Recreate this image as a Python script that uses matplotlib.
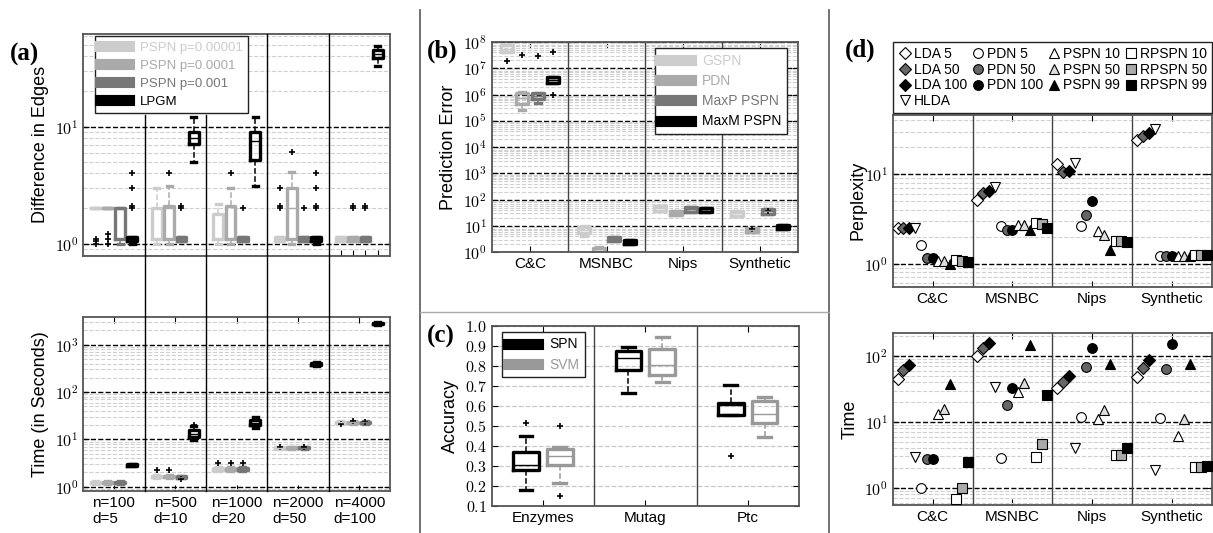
import numpy as np
import matplotlib.pyplot as plt
from matplotlib.lines import Line2D
from matplotlib.ticker import LogLocator, FuncFormatter, NullFormatter, FixedLocator

plt.rcParams['font.family'] = ['Liberation Sans', 'DejaVu Sans']
plt.rcParams['mathtext.fontset'] = 'cm'

# ---------------- data ----------------
# (a) structure learning, stats per box: [whislo, q1, med, q3, whishi]
a_groups = ['n=100\nd=5', 'n=500\nd=10', 'n=1000\nd=20', 'n=2000\nd=50', 'n=4000\nd=100']
a_methods = ['PSPN p=0.00001', 'PSPN p=0.0001', 'PSPN p=0.001', 'LPGM']
a_colors = ['#cccccc', '#aaaaaa', '#777777', '#000000']
edge_stats = [
    [[2, 2, 2, 2, 2], [2, 2, 2, 2, 2], [1.0, 1.1, 2.0, 2.0, 2.0], [1.0, 1.05, 1.1, 1.15, 1.15]],
    [[1.0, 1.1, 1.1, 2.0, 3.0], [1.0, 1.1, 2.0, 2.1, 3.1], [1.05, 1.05, 1.1, 1.15, 1.15], [5.0, 7.1, 8.0, 9.0, 12.0]],
    [[1.0, 1.1, 1.1, 1.8, 2.2], [1.0, 1.1, 1.1, 2.1, 3.0], [1.05, 1.05, 1.1, 1.15, 1.15], [3.1, 5.2, 7.5, 9.1, 12.0]],
    [[1.05, 1.05, 1.1, 1.15, 1.15], [1.0, 1.1, 2.0, 3.0, 4.1], [1.05, 1.05, 1.1, 1.15, 1.15], [1.0, 1.05, 1.1, 1.15, 1.15]],
    [[1.05, 1.05, 1.1, 1.15, 1.15], [1.05, 1.05, 1.1, 1.15, 1.15], [1.05, 1.05, 1.1, 1.15, 1.15], [33, 38.5, 42, 45, 48.5]],
]
edge_fliers = [
    [[1.0, 1.05, 1.1], [1.0, 1.1, 1.2], [], [2.0, 2.1, 3.0, 4.0]],
    [[], [4.0], [2.0, 2.1], []],
    [[], [4.0], [2.0], []],
    [[2.0, 2.1, 3.0], [6.1], [2.0], [2.0, 2.1, 3.0, 4.0]],
    [[], [2.0, 2.1], [2.0, 2.1], []],
]
time_stats = [
    [[1.15, 1.18, 1.22, 1.26, 1.3]] * 3 + [[2.7, 2.8, 2.85, 2.95, 3.0]],
    [[1.55, 1.6, 1.65, 1.72, 1.8], [1.55, 1.6, 1.65, 1.72, 1.8], [1.5, 1.55, 1.6, 1.68, 1.72], [9.7, 11.4, 13.2, 15.7, 18.7]],
    [[2.1, 2.2, 2.33, 2.45, 2.6]] * 3 + [[17, 20, 22, 26, 29]],
    [[6.3, 6.45, 6.65, 6.85, 7.0]] * 3 + [[360, 380, 400, 420, 440]],
    [[21.5, 22, 22.8, 23.5, 24]] * 3 + [[2600, 2700, 2800, 2900, 3000]],
]
time_fliers = [
    [[], [], [], []],
    [[2.25], [2.25], [1.45], [20]],
    [[3.1], [3.1], [3.1], []],
    [[6.8], [], [6.8], []],
    [[21], [24.5], [23], []],
]

# (b) prediction error
b_groups = ['C&C', 'MSNBC', 'Nips', 'Synthetic']
b_methods = ['GSPN', 'PDN', 'MaxP PSPN', 'MaxM PSPN']
b_colors = ['#cccccc', '#aaaaaa', '#777777', '#000000']
pred_stats = [
    [[4.2e7, 4.2e7, 5.5e7, 7.6e7, 7.6e7], [2.6e5, 4.4e5, 7.2e5, 1.17e6, 1.2e6],
     [4.9e5, 6.6e5, 8.5e5, 1.1e6, 1.1e6], [2.7e6, 2.7e6, 3.5e6, 4.5e6, 4.5e6]],
    [[4.2, 5.3, 7.0, 9.4, 10], [1.0, 1.05, 1.3, 1.5, 1.55],
     [2.76, 2.76, 3.2, 3.7, 3.7], [2.1, 2.1, 2.5, 2.9, 2.9]],
    [[38, 38, 47, 59, 59], [26, 26, 32, 38, 38], [35, 35, 45, 54, 54], [35, 35, 45, 50, 50]],
    [[24, 24, 31, 38, 38], [5.8, 5.8, 7.2, 8.6, 8.6], [28, 28, 36, 43, 43], [7.5, 7.5, 9.0, 10.6, 10.6]],
]
pred_fliers = [
    [[1.9e7], [3.2e7], [3.0e7], [1.0e6, 4.2e7]],
    [[], [], [], []],
    [[], [], [], []],
    [[], [7.4], [38], []],
]

# (c) accuracy
c_groups = ['Enzymes', 'Mutag', 'Ptc']
c_methods = ['SPN', 'SVM']
c_colors = ['#000000', '#999999']
acc_stats = [
    [[0.18, 0.28, 0.305, 0.372, 0.45], [0.217, 0.305, 0.35, 0.383, 0.397]],
    [[0.667, 0.78, 0.838, 0.877, 0.897], [0.722, 0.755, 0.805, 0.883, 0.943]],
    [[0.555, 0.555, 0.605, 0.617, 0.705], [0.443, 0.513, 0.558, 0.627, 0.647]],
]
acc_fliers = [
    [[0.517], [0.5, 0.15]],
    [[], []],
    [[0.35], []],
]

# (d) topic models
d_groups = ['C&C', 'MSNBC', 'Nips', 'Synthetic']
d_methods = ['LDA 5', 'LDA 50', 'LDA 100', 'HLDA', 'PDN 5', 'PDN 50', 'PDN 100',
             'PSPN 10', 'PSPN 50', 'PSPN 99', 'RPSPN 10', 'RPSPN 50', 'RPSPN 99']
d_markers = ['D', 'D', 'D', 'v', 'o', 'o', 'o', '^', '^', '^', 's', 's', 's']
d_fills = ['white', '#666666', 'black', 'white', 'white', '#666666', 'black',
           'white', '#dddddd', 'black', 'white', '#aaaaaa', 'black']
perplexity = [
    [2.47, 2.47, 2.47, 2.47, 1.63, 1.14, 1.14, 1.07, 1.07, 1.0, 1.1, 1.08, 1.03],
    [5.1, 6.1, 6.5, 7.1, 2.62, 2.36, 2.36, 2.69, 2.69, 2.36, 2.85, 2.8, 2.47],
    [12.9, 10.6, 10.9, 13.4, 2.6, 3.47, 4.98, 2.3, 2.06, 1.43, 1.79, 1.79, 1.76],
    [24, 26.7, 28.6, 31.7, 1.22, 1.22, 1.22, 1.22, 1.22, 1.22, 1.24, 1.24, 1.24],
]
d_time = [
    [44.9, 61.5, 73, 2.96, 1.0, 2.7, 2.7, 13.2, 15.7, 37.3, 0.69, 0.98, 2.43],
    [100, 134, 156, 33.6, 2.8, 18.1, 32.4, 28.8, 39.4, 147, 2.9, 4.7, 25.6],
    [33, 40.8, 50.4, 4.05, 12, 67.6, 131, 10.9, 15.2, 76, 3.14, 3.2, 3.97],
    [47.6, 65, 87, 1.86, 11.6, 63.7, 153, 6.1, 11, 75, 2.08, 2.05, 2.15],
]

# ---------------- figure ----------------
W, H = 1213, 533
fig = plt.figure(figsize=(W / 100, H / 100), dpi=100)


def rect(l, t, r, b):
    return [l / W, 1 - b / H, (r - l) / W, (b - t) / H]


def pow_fmt(v, p):
    return r'$10^{%d}$' % int(round(np.log10(v)))


def style_log(ax, ylim):
    ax.set_yscale('log')
    ax.set_ylim(*ylim)
    ax.yaxis.set_major_locator(LogLocator(base=10, numticks=30))
    ax.yaxis.set_minor_locator(LogLocator(base=10, subs=range(2, 10), numticks=100))
    ax.yaxis.set_major_formatter(FuncFormatter(pow_fmt))
    ax.yaxis.set_minor_formatter(NullFormatter())
    ax.grid(True, which='major', axis='y', ls='--', color='k', lw=1)
    ax.grid(True, which='minor', axis='y', ls='--', color='#d0d0d0', lw=0.8)
    ax.tick_params(which='minor', length=0)


def frame(ax):
    for s in ax.spines.values():
        s.set_color('#555555')
        s.set_linewidth(1.3)
    ax.tick_params(direction='in', top=True, right=True, length=4)
    ax.tick_params(axis='y', labelsize=11.5)
    ax.tick_params(axis='x', labelsize=11)
    ax.set_axisbelow(True)


def draw_boxes(ax, stats, fliers, colors, offsets, width):
    for g, (grp, fgrp) in enumerate(zip(stats, fliers)):
        for m, (s, f) in enumerate(zip(grp, fgrp)):
            lo, q1, med, q3, hi = s
            c = colors[m]
            ax.bxp([dict(whislo=lo, q1=q1, med=med, q3=q3, whishi=hi, fliers=f)],
                   positions=[g + 1 + offsets[m]], widths=width, manage_ticks=False,
                   boxprops=dict(color=c, lw=2.4),
                   whiskerprops=dict(color=c, lw=1.1, ls='--'),
                   capprops=dict(color=c, lw=2.4),
                   medianprops=dict(color=c, lw=1.0),
                   flierprops=dict(marker='+', markeredgecolor='k', markersize=5, mew=1.2))


def box_legend(ax, labels, colors, size=10, **kw):
    handles = [Line2D([], [], color=c, lw=8) for c in colors]
    leg = ax.legend(handles, labels, fancybox=False, framealpha=1, edgecolor='#222222',
                    handlelength=2.2, fontsize=size, borderpad=0.4, labelspacing=0.45,
                    borderaxespad=0, **kw)
    leg.get_frame().set_linewidth(1.0)
    for t, c in zip(leg.get_texts(), colors):
        t.set_color(c)
    leg.set_zorder(10)
    return leg


off4 = [-0.3, -0.1, 0.1, 0.3]

# (a) top
ax_ae = fig.add_axes(rect(83.3, 34, 390, 255.7))
style_log(ax_ae, (0.79, 62))
draw_boxes(ax_ae, edge_stats, edge_fliers, a_colors, off4, 0.16)
ax_ae.set_xlim(0.5, 5.5)
ax_ae.set_xticks([5 + o for o in off4])
ax_ae.set_xticklabels([])
frame(ax_ae)
ax_ae.tick_params(axis='x', top=False)
ax_ae.set_ylabel('Difference in Edges', fontsize=13)
box_legend(ax_ae, a_methods, a_colors, size=9.5, loc='upper left', bbox_to_anchor=(0.038, 0.991))

# (a) bottom
ax_at = fig.add_axes(rect(83.3, 317.3, 390, 491))
style_log(ax_at, (0.81, 3800))
draw_boxes(ax_at, time_stats, time_fliers, a_colors, off4, 0.16)
ax_at.set_xlim(0.5, 5.5)
ax_at.set_xticks(np.arange(1, len(a_groups) + 1))
ax_at.set_xticklabels(a_groups)
frame(ax_at)
for lbl in ax_at.get_xticklabels():
    lbl.set_multialignment('left')
ax_at.set_ylabel('Time (in Seconds)', fontsize=13)

gw = (390 - 83.3) / 5
for k in range(1, 5):
    x = (83.3 + gw * k) / W
    y0 = 115 if k <= 2 else 34
    fig.add_artist(Line2D([x, x], [1 - y0 / H, 1 - 491 / H], transform=fig.transFigure,
                          color='k', lw=1))

# (b)
ax_b = fig.add_axes(rect(491.7, 42, 798.3, 252.3))
style_log(ax_b, (1, 1e8))
draw_boxes(ax_b, pred_stats, pred_fliers, b_colors, off4, 0.16)
ax_b.set_xlim(0.5, 4.5)
ax_b.set_xticks(np.arange(1, len(b_groups) + 1))
ax_b.set_xticklabels(b_groups)
frame(ax_b)
for k in range(1, 4):
    ax_b.axvline(k + 0.5, color='#444444', lw=1)
ax_b.set_ylabel('Prediction Error', fontsize=13)
box_legend(ax_b, b_methods, b_colors, loc='upper right', bbox_to_anchor=(0.963, 0.971))

# (c)
ax_c = fig.add_axes(rect(491.7, 326, 799, 506))
draw_boxes(ax_c, acc_stats, acc_fliers, c_colors, [-0.165, 0.165], 0.25)
ax_c.set_xlim(0.5, 3.5)
ax_c.set_ylim(0.1, 1.0)
ax_c.yaxis.set_major_locator(FixedLocator(np.arange(0.1, 1.01, 0.1)))
ax_c.yaxis.set_major_formatter(FuncFormatter(lambda v, p: r'$%.1f$' % v))
ax_c.grid(True, axis='y', ls='--', color='#c8c8c8', lw=0.9)
ax_c.set_xticks(np.arange(1, len(c_groups) + 1))
ax_c.set_xticklabels(c_groups)
frame(ax_c)
for k in range(1, 3):
    ax_c.axvline(k + 0.5, color='#444444', lw=1)
ax_c.set_ylabel('Accuracy', fontsize=13)
box_legend(ax_c, c_methods, c_colors, loc='upper left', bbox_to_anchor=(0.034, 0.967))

# (d)
d_off = (np.arange(len(d_methods)) - 6) * 0.073


def draw_points(ax, vals):
    for m in range(len(d_methods)):
        xs = [g + 1 + d_off[m] for g in range(len(vals))]
        ys = [v[m] for v in vals]
        ax.plot(xs, ys, ls='none', marker=d_markers[m], markerfacecolor=d_fills[m],
                markeredgecolor='k', markersize=7 if d_markers[m] != 'D' else 6,
                mew=0.8, zorder=3)


ax_dp = fig.add_axes(rect(892.7, 115, 1212, 286.7))
style_log(ax_dp, (0.55, 46))
draw_points(ax_dp, perplexity)
ax_dp.set_xlim(0.5, 4.5)
ax_dp.set_xticks(np.arange(1, len(d_groups) + 1))
ax_dp.set_xticklabels(d_groups)
frame(ax_dp)
for k in range(1, 4):
    ax_dp.axvline(k + 0.5, color='#444444', lw=1)
ax_dp.set_ylabel('Perplexity', fontsize=13, labelpad=-2)

ax_dt = fig.add_axes(rect(892.7, 332.7, 1212, 505))
style_log(ax_dt, (0.55, 226))
draw_points(ax_dt, d_time)
ax_dt.set_xlim(0.5, 4.5)
ax_dt.set_xticks(np.arange(1, len(d_groups) + 1))
ax_dt.set_xticklabels(d_groups)
frame(ax_dt)
for k in range(1, 4):
    ax_dt.axvline(k + 0.5, color='#444444', lw=1)
ax_dt.set_ylabel('Time', fontsize=13)

handles = [Line2D([], [], ls='none', marker=d_markers[m], markerfacecolor=d_fills[m],
                  markeredgecolor='k', markersize=7 if d_markers[m] != 'D' else 6, mew=0.8)
           for m in range(len(d_methods))]
leg = ax_dp.legend(handles, d_methods, ncol=4, loc='lower left',
                   bbox_to_anchor=(0, 1.012, 1, 0.46), mode='expand', borderaxespad=0,
                   fontsize=10, handletextpad=0.1, columnspacing=0.2, handlelength=1.1,
                   borderpad=0.35, labelspacing=0.12, fancybox=False, edgecolor='#222222',
                   framealpha=1)
leg.get_frame().set_linewidth(1.0)

# panel labels and separators
for txt, x, y in [('(a)', 10, 54), ('(b)', 427, 51), ('(c)', 427, 336), ('(d)', 845, 50)]:
    fig.text(x / W, 1 - y / H, txt, fontsize=18, fontweight='bold',
             family='Liberation Serif', va='center', ha='left')

fig.add_artist(Line2D([420 / W, 420 / W], [1 - 10 / H, 0], transform=fig.transFigure,
                      color='#666666', lw=1.3))
fig.add_artist(Line2D([829 / W, 829 / W], [1 - 10 / H, 0], transform=fig.transFigure,
                      color='#666666', lw=1.3))
fig.add_artist(Line2D([420 / W, 829 / W], [1 - 312 / H, 1 - 312 / H], transform=fig.transFigure,
                      color='#aaaaaa', lw=1.0))

fig.savefig('out.png', dpi=100)
